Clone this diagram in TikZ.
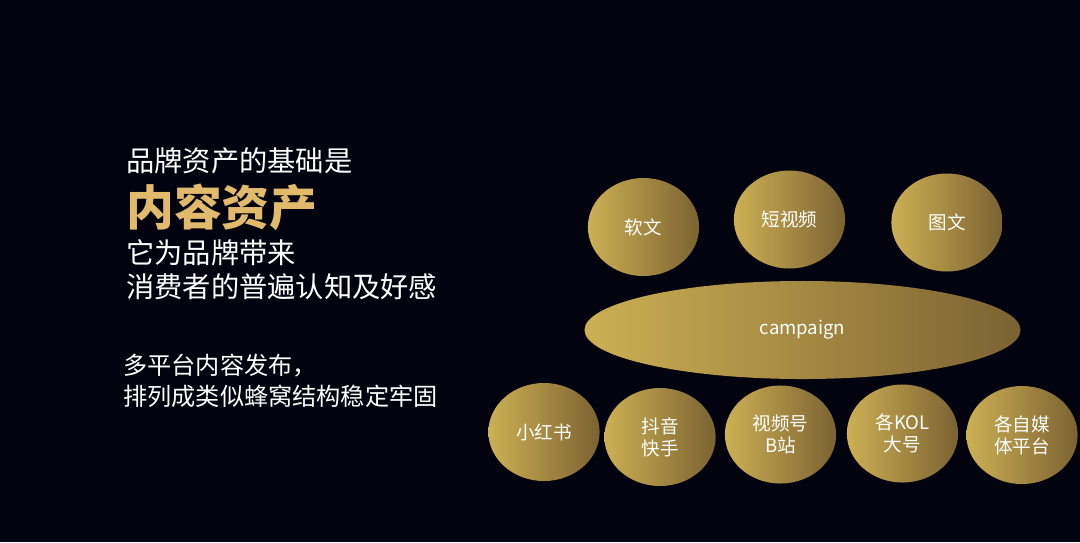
\documentclass[tikz,border=0pt]{standalone}
\usepackage{fontspec}
\setmainfont{Noto Sans CJK SC}
\usetikzlibrary{shapes.geometric}

\definecolor{bgnavy}{RGB}{3,3,15}
\definecolor{goldL}{RGB}{204,176,84}
\definecolor{goldM}{RGB}{190,162,78}
\definecolor{goldR}{RGB}{124,98,50}
\definecolor{goldtxt}{RGB}{226,186,108}

\tikzset{
  bubble/.style={ellipse, inner sep=0pt, left color=goldL, middle color=goldM,
    right color=goldR, text=white, align=center,
    font=\fontsize{13.2}{15.6}\selectfont,
    minimum width=2.78cm, minimum height=2.45cm},
  slogan/.style={anchor=west, inner sep=0pt, text=white,
    font=\fontsize{20.1}{24}\selectfont},
  remark/.style={anchor=west, inner sep=0pt, text=white,
    font=\fontsize{17.2}{21}\selectfont},
}

\begin{document}
\begin{tikzpicture}[x=0.025cm, y=-0.025cm]
    % ===== background =====
    \fill[bgnavy] (0,0) rectangle (1080,542);

    % ===== left text =====
    \node[slogan] (base) at (126,161) {品牌资产的基础是};
    \node[slogan, text=goldtxt, font=\fontsize{34}{40}\selectfont\bfseries] (core) at (126,207) {内容资产};
    \node[slogan] (bring) at (126,253) {它为品牌带来};
    \node[slogan] (favor) at (126,287) {消费者的普遍认知及好感};

    \node[remark] (multi) at (123,366) {多平台内容发布，};
    \node[remark] (hive) at (123,396) {排列成类似蜂窝结构稳定牢固};

    % ===== top row =====
    \node[bubble] (soft) at (643.5,227) {软文};
    \node[bubble] (short) at (789.5,219.5) {短视频};
    \node[bubble] (pic) at (947,222.5) {图文};

    % ===== campaign =====
    \node[bubble, minimum width=10.9cm] (camp) at (802.5,330) {campaign};

    % ===== bottom row =====
    \node[bubble] (xhs) at (544,432) {小红书};
    \node[bubble] (dy) at (660,437) {抖音\\快手};
    \node[bubble] (sph) at (780.5,434.5) {视频号\\B站};
    \node[bubble] (kol) at (902.5,433.5) {各KOL\\大号};
    \node[bubble] (self) at (1022,435) {各自媒\\体平台};
\end{tikzpicture}
\end{document}
